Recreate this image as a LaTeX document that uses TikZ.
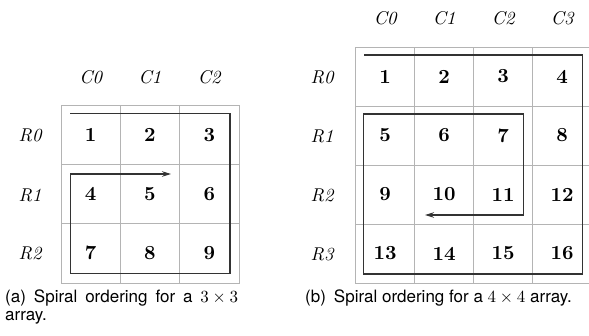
\documentclass[tikz,border=0pt]{standalone}
\usepackage{fontspec}
\newfontfamily\capfont{TeX Gyre Heros}
\newfontfamily\numfont{lmroman10-bold}[Extension=.otf]
\newfontfamily\labfont{lmroman10-italic}[Extension=.otf]
\newfontfamily\mathlike{lmroman10-regular}[Extension=.otf]
\newcommand{\dimtimes}[2]{{\mathlike #1\hspace{0.22em}×\hspace{0.22em}#2}}
\usetikzlibrary{arrows.meta}
\definecolor{gridgray}{HTML}{B4B4B4}
\definecolor{spiralgray}{HTML}{333333}
\begin{document}
\begin{tikzpicture}[x=1pt,y=-1pt,
  cell/.style={draw=gridgray, line width=0.8pt, inner sep=0pt,
    font=\fontsize{20}{24}\selectfont\numfont},
  axislabel/.style={inner sep=0pt, font=\fontsize{18.5}{22}\selectfont\labfont},
  spiral/.style={draw=spiralgray, line width=1.4pt, line join=miter},
  spiralarrow/.style={spiral, -{Stealth[length=9pt,width=5.5pt]}},
  capstyle/.style={inner sep=0pt, font=\fontsize{17}{20}\selectfont\capfont}]
\useasboundingbox (0,0) rectangle (589,335);
\fill[white] (0,0) rectangle (589,335);
% ---- left 3x3 grid ----
\foreach \r in {0,1,2} \foreach \c in {0,1,2} {
  \pgfmathtruncatemacro\n{3*\r+\c+1}
  \node[cell, minimum size=59.3pt] (a\n) at ({90.65+59.3*\c},{134.65+59.3*\r}) {\n};
}
\node[axislabel] (ac0) at (90.65,77) {C0};
\node[axislabel] (ac1) at (149.95,77) {C1};
\node[axislabel] (ac2) at (209.25,77) {C2};
\node[axislabel] (ar0) at (30,135) {R0};
\node[axislabel] (ar1) at (30,195) {R1};
\node[axislabel] (ar2) at (30,253) {R2};
\coordinate (as1) at (70.3,113.3);
\coordinate (as2) at (230,113.3);
\coordinate (as3) at (230,273.3);
\coordinate (as4) at (70.3,273.3);
\coordinate (as5) at (70.3,174);
\coordinate (as6) at (171,174);
\draw[spiralarrow] (as1) -- (as2) -- (as3) -- (as4) -- (as5) -- (as6);
% ---- right 4x4 grid ----
\foreach \r in {0,1,2,3} \foreach \c in {0,1,2,3} {
  \pgfmathtruncatemacro\n{4*\r+\c+1}
  \node[cell, minimum size=59pt] (b\n) at ({385.2+59*\c},{76.5+59*\r}) {\n};
}
\node[axislabel] (bc0) at (385.2,18) {C0};
\node[axislabel] (bc1) at (444.2,18) {C1};
\node[axislabel] (bc2) at (503.2,18) {C2};
\node[axislabel] (bc3) at (562.2,18) {C3};
\node[axislabel] (br0) at (322,77) {R0};
\node[axislabel] (br1) at (322,136) {R1};
\node[axislabel] (br2) at (322,195) {R2};
\node[axislabel] (br3) at (322,254) {R3};
\coordinate (bs1) at (364,55);
\coordinate (bs2) at (582.7,55);
\coordinate (bs3) at (582.7,274);
\coordinate (bs4) at (363.5,274);
\coordinate (bs5) at (363.5,114);
\coordinate (bs6) at (523.3,114);
\coordinate (bs7) at (523.3,215);
\coordinate (bs8) at (425,215);
\draw[spiralarrow] (bs1) -- (bs2) -- (bs3) -- (bs4) -- (bs5) -- (bs6) -- (bs7) -- (bs8);
% ---- captions ----
\node[capstyle, anchor=base west] (capa1) at (5,302)
  {\makebox[233pt][s]{(a)\hspace{8pt}Spiral ordering for a \dimtimes{3}{3}}};
\node[capstyle, anchor=base west] (capa2) at (5,320) {array.};
\node[capstyle, anchor=base west] (capb) at (305,302)
  {(b)\hspace{8pt}Spiral ordering for a \dimtimes{4}{4} array.};
\end{tikzpicture}
\end{document}
